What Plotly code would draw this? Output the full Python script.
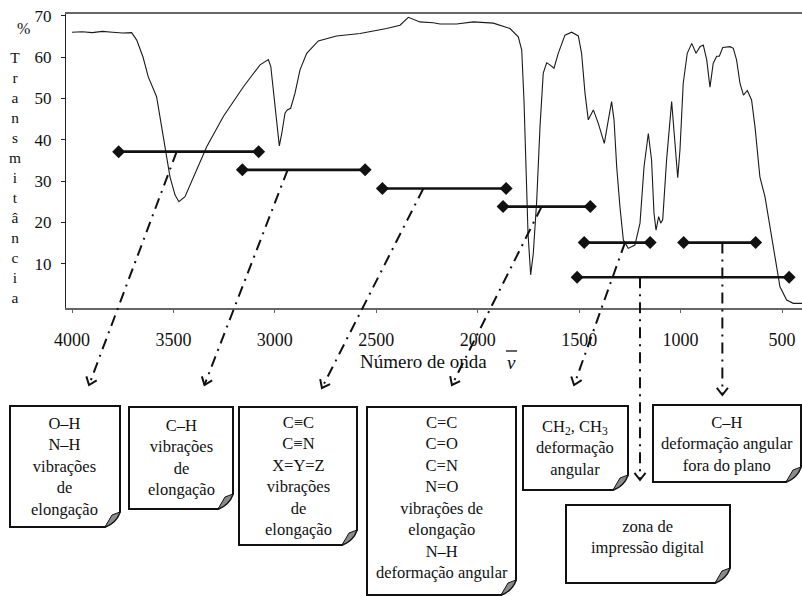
import math
import plotly.graph_objects as go

# ---------------- IR spectrum: wavenumber (cm-1) vs % transmittance ----------------
wavenumber = [4000, 3950, 3900, 3850, 3800, 3750, 3706, 3681, 3650, 3624, 3583, 3558,
              3537, 3517, 3492, 3473, 3443, 3402, 3336, 3254, 3155, 3073, 3032, 3020,
              2999, 2988, 2978, 2966, 2950, 2939, 2922, 2901, 2876, 2843, 2786, 2696,
              2580, 2449, 2383, 2342, 2285, 2219, 2186, 2104, 2022, 1923, 1841, 1800,
              1783, 1772, 1762, 1752, 1739, 1726, 1709, 1693, 1677, 1660, 1644, 1624,
              1603, 1570, 1537, 1504, 1488, 1471, 1455, 1430, 1406, 1376, 1356, 1340,
              1328, 1315, 1299, 1282, 1258, 1225, 1200, 1180, 1159, 1143, 1131, 1121,
              1108, 1098, 1088, 1069, 1044, 1028, 1014, 1003, 987, 967, 945, 924, 904,
              888, 871, 855, 839, 822, 809, 792, 756, 740, 724, 707, 690, 671, 650, 633,
              609, 584, 560, 535, 510, 477, 444, 401]
transmittance = [66.0, 66.1, 65.9, 66.2, 66.0, 65.8, 65.9, 64.1, 60.0, 55.2, 50.4, 43.1,
                 36.7, 31.0, 26.6, 25.0, 26.2, 31.0, 38.3, 45.6, 52.8, 58.1, 59.4, 57.7,
                 48.0, 41.5, 38.5, 41.5, 46.4, 47.2, 47.6, 51.2, 56.9, 60.9, 63.9, 65.1,
                 65.7, 66.9, 67.7, 69.6, 68.5, 68.3, 68.0, 68.0, 68.5, 68.2, 66.9, 64.9,
                 61.7, 49.6, 33.5, 17.3, 7.3, 12.5, 25.4, 43.1, 56.1, 58.6, 58.1, 57.3,
                 60.9, 65.3, 66.0, 65.1, 60.9, 51.2, 44.8, 47.2, 44.0, 39.1, 44.8, 49.2,
                 44.8, 33.5, 23.8, 15.7, 13.7, 14.5, 19.8, 33.5, 41.5, 35.1, 22.2, 18.1,
                 21.4, 19.8, 20.6, 35.1, 49.2, 39.9, 30.8, 37.5, 53.6, 60.9, 63.3, 60.9, 62.5,
                 62.9, 59.3, 52.7, 58.5, 60.2, 60.2, 62.3, 62.5, 62.1, 59.3, 53.6, 50.8, 51.9,
                 49.6, 43.1, 31.0, 26.2, 18.9, 10.9, 4.4, 1.2, 0.4, 0.4]

# ---------------- characteristic absorption ranges ----------------
range_start = [3770, 3160, 2470, 1875, 1475, 985, 1510]
range_end = [3080, 2555, 1860, 1445, 1150, 630, 465]
range_level = [37.1, 32.7, 28.2, 23.8, 15.1, 15.1, 6.7]
# wavenumber where each pointer leaves its range bar, and where its arrow lands
pointer_from = [3484, 2937, 2268, 1685, 1274, 794, 1200]
pointer_to = [3916, 3347, 2768, 2127, 1525, 794, 1200]

x_ticks = [4000, 3500, 3000, 2500, 2000, 1500, 1000, 500]
y_ticks = [10, 20, 30, 40, 50, 60, 70]

box_text = [
    "O–H<br>N–H<br>vibrações<br>de<br>elongação",
    "C–H<br>vibrações<br>de<br>elongação",
    "C≡C<br>C≡N<br>X=Y=Z<br>vibrações<br>de<br>elongação",
    "C=C<br>C=O<br>C=N<br>N=O<br>vibrações de<br>elongação<br>N–H<br>deformação angular",
    "CH<sub>2</sub>, CH<sub>3</sub><br>deformação<br>angular",
    "C–H<br>deformação angular<br>fora do plano",
    "zona de<br>impressão digital",
]

# ---------------- page geometry (pixels) ----------------
FIG_W, FIG_H = 802, 596
ML, MR, MT, MB = 66, 0, 14, 288
PW, PH = FIG_W - ML - MR, FIG_H - MT - MB
X_RANGE = [4029.6, 401.4]
Y_RANGE = [-0.73, 70.41]
SERIF = "Liberation Serif, Times New Roman, DejaVu Serif, serif"
INK = "#111"


def px(x):
    return (x - ML) / PW


def py(y):
    return (FIG_H - MB - y) / PH


def yp(v):
    return (v - Y_RANGE[0]) / (Y_RANGE[1] - Y_RANGE[0])


def x_pix(w):
    return ML + (X_RANGE[0] - w) / (X_RANGE[0] - X_RANGE[1]) * PW


def y_pix(v):
    return MT + (Y_RANGE[1] - v) / (Y_RANGE[1] - Y_RANGE[0]) * PH


# note boxes: left, top, right, bottom (px); text centre (px)
boxes = [(10, 406, 120, 527), (129, 407, 233, 509), (239, 407, 357, 545),
         (367, 407, 516, 595), (523, 406, 628, 490), (653, 405, 801, 482),
         (566, 505, 730, 583)]
text_pos = [(64, 466), (181, 457), (298, 476), (442, 497), (575, 448), (727, 444),
            (648, 537)]
# arrow tip height (px) for each pointer
tip_y = [385, 385, 388, 385, 385, 395, 480]

fig = go.Figure()

fig.add_trace(go.Scatter(x=wavenumber, y=transmittance, mode="lines",
                         line=dict(color="#1a1a1a", width=1.1), hoverinfo="skip"))

for a, b, lv in zip(range_start, range_end, range_level):
    fig.add_trace(go.Scatter(x=[a, b], y=[lv, lv], mode="lines+markers",
                             line=dict(color=INK, width=2.6),
                             marker=dict(symbol="diamond", size=10, color=INK),
                             hoverinfo="skip"))

shapes = []
annotations = []

# dash-dot pointers ending in an open chevron head
HEAD, SPREAD = 9, math.radians(38)
for i, (w0, w1) in enumerate(zip(pointer_from, pointer_to)):
    lv = range_level[i]
    shapes.append(dict(type="line", xref="x", yref="paper",
                       x0=w0, y0=yp(lv), x1=w1, y1=py(tip_y[i]),
                       line=dict(color=INK, width=2, dash="11px,6px,2px,6px")))
    tx, ty = x_pix(w1), tip_y[i]
    dx, dy = x_pix(w0) - tx, y_pix(lv) - ty
    ang = math.atan2(dy, dx)
    arms = [(tx + HEAD * math.cos(ang + s), ty + HEAD * math.sin(ang + s))
            for s in (SPREAD, -SPREAD)]
    head = (f"M{px(arms[0][0])},{py(arms[0][1])} L{px(tx)},{py(ty)} "
            f"L{px(arms[1][0])},{py(arms[1][1])}")
    shapes.append(dict(type="path", xref="paper", yref="paper", path=head,
                       line=dict(color=INK, width=2)))

# note-paper boxes with a curled corner
C = 15
for (L, T, R, B) in boxes:
    outline = (f"M{px(L)},{py(T)} L{px(R)},{py(T)} L{px(R)},{py(B - C)} "
               f"Q{px(R - 4)},{py(B - 4)} {px(R - C)},{py(B)} L{px(L)},{py(B)} Z")
    shapes.append(dict(type="path", xref="paper", yref="paper", path=outline,
                       fillcolor="white", line=dict(color=INK, width=2)))
    flap = (f"M{px(R)},{py(B - C)} L{px(R - 8)},{py(B - 12)} L{px(R - C)},{py(B)} "
            f"Q{px(R - 4)},{py(B - 4)} {px(R)},{py(B - C)} Z")
    shapes.append(dict(type="path", xref="paper", yref="paper", path=flap,
                       fillcolor="#8a8a8a", line=dict(color=INK, width=1)))

for t, (cx, cy) in zip(box_text, text_pos):
    annotations.append(dict(x=px(cx), y=py(cy), xref="paper", yref="paper", text=t,
                            showarrow=False, xanchor="center", yanchor="middle",
                            font=dict(family=SERIF, size=16.5, color=INK)))

# axis titles
annotations.append(dict(x=px(15), y=py(18), xref="paper", yref="paper", text="%",
                        showarrow=False, font=dict(family=SERIF, size=16, color=INK)))
annotations.append(dict(x=px(15), y=py(177), xref="paper", yref="paper",
                        text="<br>".join("Transmitância"), showarrow=False,
                        xanchor="center", yanchor="middle",
                        font=dict(family=SERIF, size=15.4, color=INK)))
annotations.append(dict(x=px(489), y=py(361), xref="paper", yref="paper",
                        text="Número de onda", showarrow=False,
                        xanchor="right", yanchor="middle",
                        font=dict(family=SERIF, size=19, color=INK)))
annotations.append(dict(x=px(511), y=py(362), xref="paper", yref="paper",
                        text="<i>ν</i>", showarrow=False,
                        xanchor="center", yanchor="middle",
                        font=dict(family=SERIF, size=19, color=INK)))
# bar over the wavenumber symbol
shapes.append(dict(type="line", xref="paper", yref="paper",
                   x0=px(506), y0=py(351), x1=px(517), y1=py(351),
                   line=dict(color=INK, width=1.3)))

fig.update_layout(
    width=FIG_W, height=FIG_H,
    margin=dict(l=ML, r=MR, t=MT, b=MB, autoexpand=False),
    paper_bgcolor="white", plot_bgcolor="white",
    showlegend=False,
    shapes=shapes, annotations=annotations,
    xaxis=dict(range=X_RANGE, tickvals=x_ticks, ticktext=[str(v) for v in x_ticks],
               showgrid=False, zeroline=False, showline=True, mirror=True,
               linecolor="#666", linewidth=1.5, ticks="outside", ticklen=3,
               tickcolor="#666", ticklabelstandoff=12,
               tickfont=dict(family=SERIF, size=18, color=INK)),
    yaxis=dict(range=Y_RANGE, tickvals=y_ticks, showgrid=False, zeroline=False,
               showline=True, linecolor="#222", linewidth=1.2, ticks="outside",
               ticklen=4, tickcolor="#222", ticklabelstandoff=6,
               tickfont=dict(family=SERIF, size=17, color=INK)),
)

fig.write_html("out.html")
